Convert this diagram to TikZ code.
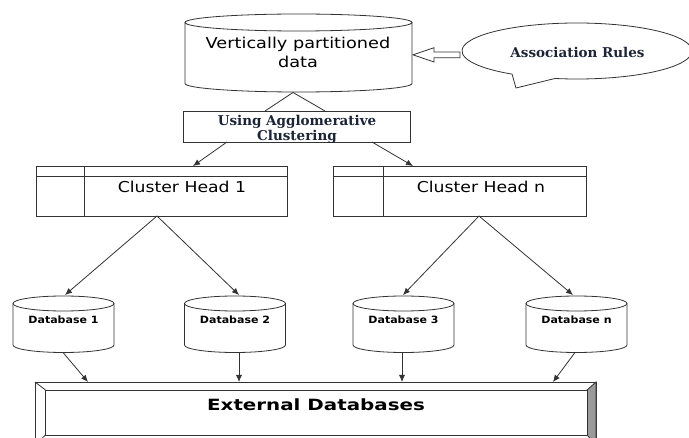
\documentclass[tikz,border=0pt]{standalone}
\usepackage{fontspec}
\usepackage{graphicx}
\setmainfont{DejaVu Sans}
\newfontfamily\camb{DejaVu Serif}
\usetikzlibrary{arrows.meta,calc}
\definecolor{ln}{HTML}{333333}
\definecolor{navy}{HTML}{1C2438}
\definecolor{bev}{HTML}{9A9A9A}
\newcommand\hs[2]{\scalebox{#1}[1]{#2}}
\newcommand\dbcyl[3]{%
  \draw[fill=white] (#1,133.5) ellipse [x radius=50.5, y radius=7.5];
  \draw ({#1-50.5},133.5) -- ({#1-50.5},92) arc[start angle=180, end angle=360, x radius=50.5, y radius=7.5] -- ({#1+50.5},133.5);
  \node[lbl, font=\bfseries\fontsize{10}{12}\selectfont] (#2) at (#1,117) {\hs{1.1}{#3}};
}
\begin{document}
\begin{tikzpicture}[x=1pt,y=1pt, line width=0.8pt, draw=ln,
  lbl/.style={inner sep=0, align=center},
  arr/.style={-{Latex[length=7pt,width=6pt]}},
  sansbig/.style={font=\fontsize{15}{19}\selectfont},
  serifb/.style={font=\camb\bfseries\fontsize{13.5}{13}\selectfont, text=navy}]
\useasboundingbox (0,0) rectangle (689,437);
\clip (0,0) rectangle (689,437);
\fill[white] (0,0) rectangle (689,437);

% top cylinder
\draw[fill=white] (298.5,414.5) ellipse [x radius=113.5, y radius=8.5];
\draw (185,414.5) -- (185,353.5) arc[start angle=180, end angle=360, x radius=113.5, y radius=8.5] -- (412,414.5);
\node[lbl, sansbig] (vp) at (298,384.5) {\hs{1.18}{Vertically partitioned}\\\hs{1.18}{data}};
\coordinate (vpb) at (293,344.5);

% association rules callout
\draw (577,386) ++(259:115 and 28) coordinate (cs)
  arc[start angle=259, end angle=595.6, x radius=115, y radius=28] -- (516,349) -- cycle;
\node[lbl, serifb] (ar) at (577.5,385) {Association Rules};

% block arrow
\draw[fill=white] (413,382.15) -- (434,389.3) -- (434,385) -- (460,385) -- (460,379.3) -- (434,379.3) -- (434,375) -- cycle;

% agglomerative box
\node[draw, fill=white, minimum width=227, minimum height=31, inner sep=0] (agg) at (296.5,310.5) {};
\node[lbl, serifb] (aggt) at (297,307.5) {Using Agglomerative\\Clustering};
\coordinate (aggL) at (265,326);
\coordinate (aggR) at (325,326);
\draw (vpb) -- (aggL);
\draw (vpb) -- (aggR);
\coordinate (aggBL) at (227,295);
\coordinate (aggBR) at (372,295);

% cluster heads
\node[draw, minimum width=251, minimum height=50, inner sep=0] (ch1) at (161.5,246) {};
\draw (84,271) -- (84,221);
\draw (36,261) -- (287,261);
\node[lbl, sansbig] (ch1t) at (182,250) {\hs{1.15}{Cluster Head 1}};
\node[draw, minimum width=253, minimum height=50, inner sep=0] (chn) at (459.5,246) {};
\draw (383,271) -- (383,221);
\draw (333,261) -- (586,261);
\node[lbl, sansbig] (chnt) at (481,250) {\hs{1.15}{Cluster Head n}};
\coordinate (ch1T) at (193,271);
\coordinate (chnT) at (413,271);
\draw[arr] (aggBL) -- (ch1T);
\draw[arr] (aggBR) -- (chnT);
\coordinate (ch1B) at (157,221);
\coordinate (chnB) at (479,221);

% databases
\dbcyl{63.5}{db1}{Database 1}
\dbcyl{235}{db2}{Database 2}
\dbcyl{403.5}{db3}{Database 3}
\dbcyl{576.5}{dbn}{Database n}
\coordinate (db1T) at (65,142);
\coordinate (db2T) at (239,142);
\coordinate (db3T) at (403,142);
\coordinate (dbnT) at (573,142);
\draw[arr] (ch1B) -- (db1T);
\draw[arr] (ch1B) -- (db2T);
\draw[arr] (chnB) -- (db3T);
\draw[arr] (chnB) -- (dbnT);

% external databases (bevel frame)
\draw[fill=white] (35,-8) rectangle (596,55);
\draw[fill=bev] (587,47) -- (596,55) -- (596,-8) -- (587,2) -- cycle;
\draw (35,55) -- (45.5,47);
\draw (35,-8) -- (45.5,2);
\node[draw, fill=white, minimum width=541.5, minimum height=45, inner sep=0] (ext) at (316.25,24.5) {};
\node[lbl, font=\bfseries\fontsize{15.5}{18}\selectfont] (extt) at (316,32) {\hs{1.28}{External Databases}};
\coordinate (e1) at (88,55);
\coordinate (e2) at (239,55);
\coordinate (e3) at (402,55);
\coordinate (e4) at (553,55);
\coordinate (d1B) at (63,84.5);
\coordinate (d2B) at (239,84.5);
\coordinate (d3B) at (402,84.5);
\coordinate (d4B) at (575,84.5);
\draw[arr] (d1B) -- (e1);
\draw[arr] (d2B) -- (e2);
\draw[arr] (d3B) -- (e3);
\draw[arr] (d4B) -- (e4);
\end{tikzpicture}
\end{document}
